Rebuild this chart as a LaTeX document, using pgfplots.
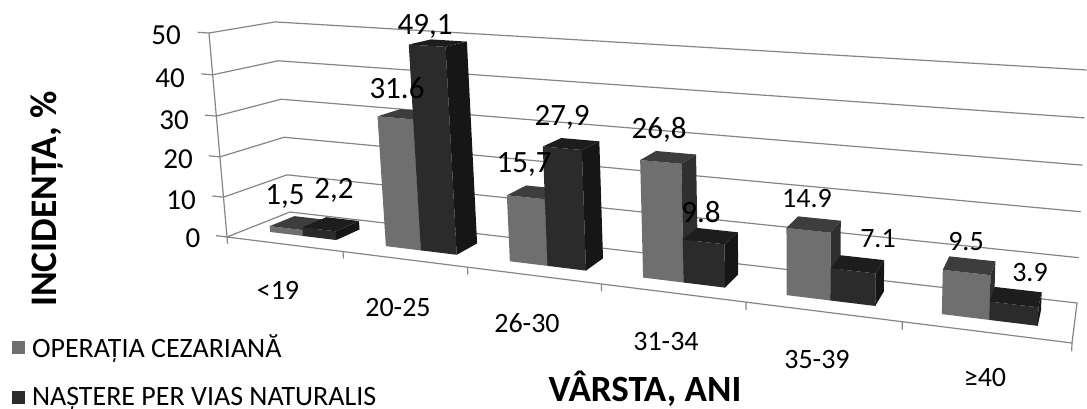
\documentclass[border=0pt]{standalone}
\usepackage{fontspec}
\setmainfont{Carlito}
\usepackage{pgfplots}
\pgfplotsset{compat=1.18}

\definecolor{gridc}{HTML}{858585}
\definecolor{lfront}{HTML}{6F6F6F}
\definecolor{lside}{HTML}{2F2F2F}
\definecolor{ltop}{HTML}{3D3D3D}
\definecolor{dfront}{HTML}{2B2B2B}
\definecolor{dside}{HTML}{161616}
\definecolor{dtop}{HTML}{1D1D1D}

% one polygon or line given as model coordinates:
% x = age group 0..6, y = depth 0..1, z = percent
\pgfplotsset{
  table/pr/.style={
    x expr={px(\thisrow{x},\thisrow{y},\thisrow{z})},
    y expr={py(\thisrow{x},\thisrow{y},\thisrow{z})},
    row sep=\\,
  },
}
\newcommand\face[2]{\addplot[forget plot,draw=none,fill=#1] table[pr] {x y z\\ #2};}
\newcommand\wall[1]{\addplot[forget plot,gridc,line width=1.2pt] table[pr] {x y z\\ #1};}
% x0 x1 value front side top
\newcommand\colbox[6]{%
  \face{#4}{#1 0.3 0\\ #2 0.3 0\\ #2 0.3 #3\\ #1 0.3 #3\\}
  \face{#5}{#2 0.3 0\\ #2 0.7 0\\ #2 0.7 #3\\ #2 0.3 #3\\}
  \face{#6}{#1 0.3 #3\\ #2 0.3 #3\\ #2 0.7 #3\\ #1 0.7 #3\\}
}
\newcommand\lbar[3]{\colbox{#1}{#2}{#3}{lfront}{lside}{ltop}}
\newcommand\dbar[3]{\colbox{#1}{#2}{#3}{dfront}{dside}{dtop}}
\newcommand\lab[3]{\node[inner sep=0pt,font=\fontsize{29}{29}\selectfont] at (axis cs:#1,#2) {#3};}
\newcommand\cat[3]{\node[inner sep=0pt,font=\fontsize{28}{28}\selectfont] at (axis cs:#1,#2) {#3};}
\newcommand\val[3]{\node[inner sep=0pt,font=\fontsize{31}{31}\selectfont] at (axis cs:#1,#2) {#3};}

\begin{document}
\begin{tikzpicture}
\useasboundingbox (0,0) rectangle (1087pt,408pt);
\begin{axis}[
  scale only axis,
  width=1087pt, height=408pt,
  xmin=0, xmax=1087, ymin=0, ymax=408,
  y dir=reverse,
  hide axis,
  clip=true,
  declare function={
    ww(\x,\y,\z)=1-0.2044*\x/6+0.075*\y-0.03*\z/50;
    px(\x,\y,\z)=(625.9*\x/6+84.75*\y+227-24.3*\z/50)/ww(\x,\y,\z);
    py(\x,\y,\z)=(35.9*\x/6-9.1*\y+237-205*\z/50)/ww(\x,\y,\z);
  },
  legend style={at={(axis cs:12,371)},anchor=west,draw=none,fill=none,
    inner sep=0pt,outer sep=0pt,row sep=24pt,
    font=\fontsize{28}{28}\selectfont},
  legend cell align=left,
  legend image code/.code={\fill[#1] (0pt,-6.5pt) rectangle (13pt,6.5pt);\path (18pt,0pt);},
]
\addlegendimage{fill=lfront,draw=none}
\addlegendentry{OPERAȚIA CEZARIANĂ}
\addlegendimage{fill=dfront,draw=none}
\addlegendentry{NAȘTERE PER VIAS NATURALIS}

% walls
\wall{0 0 0\\ 0 0 50\\}
\wall{0 0 0\\ 0 1 0\\ 6 1 0\\ 6 0 0\\ 0 0 0\\}
\wall{0 0 10\\ 0 1 10\\ 6 1 10\\}
\wall{0 0 20\\ 0 1 20\\ 6 1 20\\}
\wall{0 0 30\\ 0 1 30\\ 6 1 30\\}
\wall{0 0 40\\ 0 1 40\\ 6 1 40\\}
\wall{0 0 50\\ 0 1 50\\ 6 1 50\\}
% ticks
\wall{0 0 0\\ -0.1 0 0\\}
\wall{0 0 10\\ -0.1 0 10\\}
\wall{0 0 20\\ -0.1 0 20\\}
\wall{0 0 30\\ -0.1 0 30\\}
\wall{0 0 40\\ -0.1 0 40\\}
\wall{0 0 50\\ -0.1 0 50\\}
\wall{0 0 0\\ 0 0 -1.7\\}
\wall{1 0 0\\ 1 0 -1.7\\}
\wall{2 0 0\\ 2 0 -1.7\\}
\wall{3 0 0\\ 3 0 -1.7\\}
\wall{4 0 0\\ 4 0 -1.7\\}
\wall{5 0 0\\ 5 0 -1.7\\}
\wall{6 0 0\\ 6 0 -1.7\\}

% bars: x0, x1, value
\lbar{0.21}{0.5}{1.5}\dbar{0.5}{0.79}{2.2}
\lbar{1.21}{1.5}{31.6}\dbar{1.5}{1.79}{49.1}
\lbar{2.21}{2.5}{15.7}\dbar{2.5}{2.79}{27.9}
\lbar{3.21}{3.5}{26.8}\dbar{3.5}{3.79}{9.8}
\lbar{4.21}{4.5}{14.9}\dbar{4.5}{4.79}{7.1}
\lbar{5.21}{5.5}{9.5}\dbar{5.5}{5.79}{3.9}

% tick labels
\lab{166}{35}{50}
\lab{170}{78}{40}
\lab{174}{120}{30}
\lab{178}{159}{20}
\lab{181}{200}{10}
\lab{193}{238}{0}
\cat{278}{290}{<19}
\cat{398}{308}{20-25}
\cat{527}{323}{26-30}
\cat{666}{342}{31-34}
\cat{817}{360}{35-39}
\cat{985}{378}{≥40}
% value labels
\val{285}{197}{1,5}
\val{334}{190}{2,2}
\val{397}{88}{31.6}
\val{425}{26}{49,1}
\val{524}{165}{15,7}
\val{562}{117}{27,9}
\val{659}{130}{26,8}
\val{701}{212}{9.8}
\cat{807}{199}{14.9}
\cat{878}{239}{7.1}
\cat{966}{242}{9.5}
\cat{1030}{273}{3.9}
% axis titles
\node[rotate=90,inner sep=0pt,font=\fontsize{37.5}{37.5}\selectfont\bfseries] at (axis cs:47,199) {INCIDENȚA, \%};
\node[inner sep=0pt,font=\fontsize{37}{37}\selectfont\bfseries] at (axis cs:645,389) {VÂRSTA, ANI};
\end{axis}
\end{tikzpicture}
\end{document}
